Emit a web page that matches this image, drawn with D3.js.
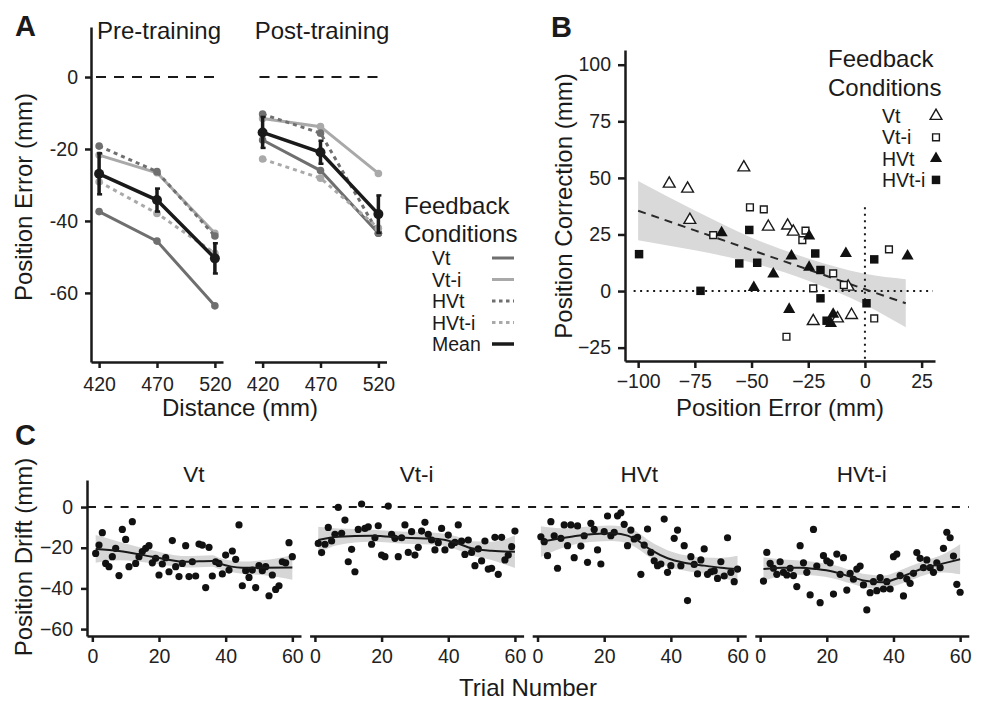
<!DOCTYPE html>
<html>
<head>
<meta charset="utf-8">
<script src="https://cdn.jsdelivr.net/npm/d3@7"></script>
<style>
body { margin: 0; background: #fff; }
text { font-family: "Liberation Sans", Arial, sans-serif; fill: #1a1a1a; }
.axis path, .axis line { stroke: #1a1a1a; stroke-width: 2.5; }
.axis text { font-size: 19.5px; fill: #222; font-family: "Liberation Sans", Arial, sans-serif; }
.title { font-size: 24px; }
.small { font-size: 19.5px; }
.letter { font-size: 29px; font-weight: bold; }
</style>
</head>
<body>
<svg id="fig" width="982" height="703"></svg>
<script>
// ---- panel A: position error by distance ----
var distances = [420, 470, 520];
var conditionNames = ["Vt", "Vt-i", "HVt", "HVt-i"];

var preVt   = [-37.4, -45.6, -63.6];
var preVti  = [-21.7, -26.6, -43.4];
var preHVt  = [-19.2, -26.3, -44.2];
var preHVti = [-29.1, -37.9, -49.0];
var preMean = [-26.9, -34.2, -50.4];
var preErr  = [5.7, 3.2, 4.2];

var postVt   = [-17.5, -26.0, -43.4];
var postVti  = [-11.5, -13.8, -26.8];
var postHVt  = [-10.3, -15.6, -43.4];
var postHVti = [-22.8, -28.1, -42.0];
var postMean = [-15.4, -20.9, -38.1];
var postErr  = [4.3, 3.2, 5.2];

var yTicksA = [0, -20, -40, -60];

// ---- panel B: correction vs error ----
var vtB   = [[-86.3,47.4],[-78.2,45.2],[-77.2,31.4],[-53.4,54.6],[-42.6,28.4],[-34.1,28.9],[-31.6,26.2],[-22.8,-13.3],[-12.1,-12.1],[-5.9,-10.6],[-7.4,1.9]];
var vtiB  = [[-66.9,24.7],[-50.7,37.0],[-44.6,36.1],[-26.2,26.7],[-27.6,22.5],[-22.8,1.2],[-14.0,7.8],[-9.3,2.7],[-34.6,-20.2],[4.1,-12.1],[10.6,18.4]];
var hvtB  = [[-63.2,25.8],[-24.6,24.3],[-32.4,15.5],[-24.6,10.5],[-40.4,7.5],[-49.0,1.6],[-33.4,-8.1],[-14.0,-10.2],[-15.0,-14.3],[-8.4,16.6],[18.8,15.5]];
var hvtiB = [[-99.6,16.3],[-72.5,0.1],[-55.4,12.2],[-51.0,27.0],[-47.5,12.5],[-21.9,16.6],[-19.6,9.3],[-19.6,-3.2],[-16.9,-13.1],[0.7,-5.4],[4.1,14.0]];

var fitX  = [-100, -75, -50, -25, 0, 18];
var fitY  = [35.5, 26.8, 18.1, 9.5, 0.8, -5.4];
var fitLo = [22.5, 18.0, 12.6, 4.6, -6.0, -16.0];
var fitHi = [48.6, 35.6, 23.6, 14.4, 7.6, 5.2];

var xTicksB = [-100, -75, -50, -25, 0, 25];
var yTicksB = [-25, 0, 25, 50, 75, 100];

// ---- panel C: drift over trials ----
var trials = d3.range(1, 61);
var driftVt = [-22.8,-18.7,-12.6,-27.7,-29.3,-24.4,-20.3,-33.7,-11.0,-15.9,
  -29.3,-7.2,-27.7,-24.4,-21.9,-20.3,-19.0,-27.4,-25.2,-33.4,
  -28.0,-24.9,-31.8,-16.5,-29.3,-34.2,-27.7,-19.0,-34.2,-26.9,
  -33.9,-18.2,-18.7,-39.6,-19.8,-33.9,-26.9,-27.7,-32.9,-23.6,
  -31.0,-21.6,-25.7,-8.8,-38.7,-31.3,-34.6,-31.0,-39.6,-28.8,
  -31.3,-29.3,-43.6,-33.4,-40.5,-38.7,-26.9,-27.4,-17.5,-24.4];
var driftVti = [-17.9,-22.4,-18.3,-10.0,-16.7,-13.4,-0.2,-12.9,-6.4,-26.9,
  -20.8,-31.8,-11.0,1.5,-10.5,-9.7,-18.3,-15.1,-9.2,-23.6,
  -24.4,0.5,-13.4,-15.4,-24.4,-15.1,-8.8,-22.3,-12.1,-23.6,
  -19.8,-11.8,-7.5,-13.4,-16.2,-21.1,-17.5,-10.5,-21.1,-13.8,
  -18.7,-17.4,-8.8,-16.7,-23.3,-16.2,-22.3,-28.8,-20.6,-26.5,
  -16.7,-30.5,-30.1,-14.9,-33.1,-14.9,-26.0,-23.6,-19.5,-11.8];
var driftHVt = [-14.6,-17.0,-23.9,-7.2,-14.1,-30.1,-15.4,-8.8,-19.0,-8.8,
  -24.9,-9.3,-19.2,-14.1,-27.2,-8.0,-11.0,-21.1,-28.0,-12.1,
  -4.4,-14.1,-12.4,-4.3,-2.8,-8.5,-19.0,-11.3,-15.7,-14.9,
  -33.1,-18.7,-10.8,-22.3,-26.4,-28.8,-28.0,-5.9,-32.1,-28.8,
  -15.4,-11.3,-28.8,-19.0,-46.0,-24.4,-28.2,-32.9,-26.0,-20.6,
  -33.1,-31.8,-31.4,-35.1,-26.9,-33.9,-15.1,-32.1,-36.7,-30.5];
var driftHVti = [-36.4,-22.3,-27.7,-30.1,-33.1,-26.9,-32.1,-33.4,-30.1,-33.7,
  -39.1,-19.0,-27.4,-32.1,-43.2,-11.0,-29.0,-47.0,-23.9,-26.4,
  -27.4,-42.8,-23.1,-33.1,-24.9,-40.8,-32.6,-35.5,-30.5,-29.0,
  -38.3,-50.6,-42.1,-36.7,-41.1,-34.7,-40.3,-36.7,-40.3,-24.4,
  -23.1,-33.7,-43.7,-35.4,-37.5,-32.6,-22.4,-25.2,-29.8,-26.0,
  -29.8,-32.1,-27.4,-29.8,-20.3,-12.4,-15.1,-24.1,-38.0,-41.9];

// smoothed fit: trial, fit, half-width of band
var smoothTVt  = [1, 8, 18, 28, 36, 38, 45, 51, 60];
var smoothVt   = [-20.6, -21.6, -24.4, -26.9, -26.5, -27.7, -29.8, -29.8, -29.7];
var smoothHwVt = [6.8, 4.6, 3.2, 2.8, 2.8, 2.8, 3.0, 3.6, 6.0];
var smoothTVti  = [1, 7, 17, 27, 37, 42, 47, 53, 60];
var smoothVti   = [-16.2, -14.6, -14.1, -15.1, -15.7, -17.4, -20.3, -21.5, -22.0];
var smoothHwVti = [6.5, 4.0, 3.0, 3.0, 3.0, 3.2, 3.5, 4.5, 8.0];
var smoothTHVt  = [1, 7, 12, 17, 22, 25, 29, 34, 39, 44, 50, 55, 60];
var smoothHVt   = [-17.0, -15.4, -14.1, -13.3, -12.9, -13.3, -15.4, -21.1, -25.2, -27.4, -28.8, -29.8, -30.5];
var smoothHwHVt = [7.5, 5.0, 4.0, 3.8, 3.8, 3.8, 4.0, 4.0, 4.0, 3.8, 4.0, 4.8, 6.5];
var smoothTHVti  = [1, 7, 12, 17, 22, 27, 32, 37, 41, 45, 49, 55, 60];
var smoothHVti   = [-30.5, -29.8, -29.8, -30.5, -31.8, -34.2, -36.4, -37.0, -35.1, -32.6, -30.1, -27.7, -25.7];
var smoothHwHVti = [5.8, 4.0, 3.5, 3.3, 3.3, 3.3, 3.3, 3.3, 3.3, 3.5, 3.5, 4.5, 7.4];

var xTicksC = [0, 20, 40, 60];
var yTicksC = [0, -20, -40, -60];

// ---- styles ----
var darkGrey = "#6f6f6f", lightGrey = "#a9a9a9", ink = "#1a1a1a";
var condStyle = [
  { color: darkGrey, dash: null },
  { color: lightGrey, dash: null },
  { color: darkGrey, dash: "4,4" },
  { color: lightGrey, dash: "4,4" }
];

var svg = d3.select("#fig");
var plain = function(d){ return String(d); };

// ================= Panel A =================
var yA = d3.scaleLinear().domain([-79.2, 13.9]).range([362, 27]);
var xPre = d3.scaleLinear().domain([413, 527]).range([91, 223]);
var xPost = d3.scaleLinear().domain([413, 527]).range([254.5, 386.5]);

svg.append("text").attr("class", "letter").attr("x", 15).attr("y", 36).text("A");

svg.append("g")
    .attr("class", "axis")
    .attr("transform", "translate(91,0)")
    .call(d3.axisLeft(yA).tickValues(yTicksA).tickFormat(plain).tickSize(6).tickPadding(7).tickSizeOuter(0));

function drawSession(x, series, mean, err, title, titleX) {
    svg.append("g")
        .attr("class", "axis")
        .attr("transform", "translate(0,362)")
        .call(d3.axisBottom(x).tickValues(distances).tickFormat(plain).tickSize(6).tickPadding(9).tickSizeOuter(0));

    svg.append("text").attr("class", "title")
        .attr("x", titleX).attr("y", 39).attr("text-anchor", "middle").text(title);

    svg.append("line")
        .attr("x1", x.range()[0] + 5).attr("x2", x.range()[1] - 3)
        .attr("y1", yA(0)).attr("y2", yA(0))
        .attr("stroke", ink).attr("stroke-width", 2).attr("stroke-dasharray", "10,8");

    var line = d3.line()
        .x(function(d, j){ return x(distances[j]); })
        .y(function(d){ return yA(d); });

    series.forEach(function(vals, i) {
        var st = condStyle[i];
        svg.append("path").datum(vals)
            .attr("d", line)
            .attr("fill", "none")
            .attr("stroke", st.color)
            .attr("stroke-width", 3)
            .attr("stroke-dasharray", st.dash);
        svg.selectAll(null).data(vals).enter().append("circle")
            .attr("cx", function(d, j){ return x(distances[j]); })
            .attr("cy", function(d){ return yA(d); })
            .attr("r", 3.8)
            .attr("fill", st.color);
    });

    svg.append("path").datum(mean)
        .attr("d", line).attr("fill", "none").attr("stroke", ink).attr("stroke-width", 3.5);

    mean.forEach(function(m, j) {
        var cx = x(distances[j]);
        svg.append("line")
            .attr("x1", cx).attr("x2", cx)
            .attr("y1", yA(m - err[j])).attr("y2", yA(m + err[j]))
            .attr("stroke", ink).attr("stroke-width", 3.5);
        [m - err[j], m + err[j]].forEach(function(v) {
            svg.append("line")
                .attr("x1", cx - 2).attr("x2", cx + 3)
                .attr("y1", yA(v)).attr("y2", yA(v))
                .attr("stroke", ink).attr("stroke-width", 2.5);
        });
    });
    svg.selectAll(null).data(mean).enter().append("circle")
        .attr("cx", function(d, j){ return x(distances[j]); })
        .attr("cy", function(d){ return yA(d); })
        .attr("r", 5)
        .attr("fill", ink);
}

drawSession(xPre, [preVt, preVti, preHVt, preHVti], preMean, preErr, "Pre-training", 159);
drawSession(xPost, [postVt, postVti, postHVt, postHVti], postMean, postErr, "Post-training", 322);

svg.append("text").attr("class", "title")
    .attr("transform", "translate(32,197) rotate(-90)")
    .attr("text-anchor", "middle").text("Position Error (mm)");
svg.append("text").attr("class", "title")
    .attr("x", 240).attr("y", 416).attr("text-anchor", "middle").text("Distance (mm)");

// legend A
svg.append("text").attr("class", "title").attr("x", 404).attr("y", 214).text("Feedback");
svg.append("text").attr("class", "title").attr("x", 404).attr("y", 242).text("Conditions");
var legA = conditionNames.concat(["Mean"]);
legA.forEach(function(name, i) {
    var ly = 258 + 21.5 * i;
    var st = i < 4 ? condStyle[i] : { color: ink, dash: null };
    svg.append("text").attr("class", "small").attr("x", 432).attr("y", ly + 7).text(name);
    svg.append("line")
        .attr("x1", 492).attr("x2", 514).attr("y1", ly).attr("y2", ly)
        .attr("stroke", st.color).attr("stroke-width", i < 4 ? 3 : 3.5)
        .attr("stroke-dasharray", st.dash ? "3.5,3.5" : null);
});

// ================= Panel B =================
var xB = d3.scaleLinear().domain([-105.8, 30.9]).range([625, 935]);
var yB = d3.scaleLinear().domain([-30.9, 106.5]).range([361, 50]);

svg.append("text").attr("class", "letter").attr("x", 551).attr("y", 37).text("B");

var band = d3.area()
    .x(function(d, j){ return xB(fitX[j]); })
    .y0(function(d, j){ return yB(fitLo[j]); })
    .y1(function(d, j){ return yB(fitHi[j]); })
    .curve(d3.curveMonotoneX);
svg.append("path").datum(fitX).attr("d", band).attr("fill", "#d9d9d9");

svg.append("line")
    .attr("x1", xB(-102)).attr("x2", xB(30))
    .attr("y1", yB(0)).attr("y2", yB(0))
    .attr("stroke", ink).attr("stroke-width", 2).attr("stroke-dasharray", "2,4.5");
svg.append("line")
    .attr("x1", xB(0)).attr("x2", xB(0))
    .attr("y1", yB(37)).attr("y2", yB(-30.9))
    .attr("stroke", ink).attr("stroke-width", 2).attr("stroke-dasharray", "2,4.5");

svg.append("path").datum(fitY)
    .attr("d", d3.line().x(function(d, j){ return xB(fitX[j]); }).y(function(d){ return yB(d); }))
    .attr("fill", "none").attr("stroke", "#2a2a2a").attr("stroke-width", 2).attr("stroke-dasharray", "8,6");

var tri = d3.symbol().type(d3.symbolTriangle).size(60);
var sqOpen = d3.symbol().type(d3.symbolSquare).size(46);
var sqFill = d3.symbol().type(d3.symbolSquare).size(72);
var tri2 = d3.symbol().type(d3.symbolTriangle).size(64);
var markB = [
    { pts: vtB, path: tri(), fill: "#fff", stroke: ink },
    { pts: vtiB, path: sqOpen(), fill: "#fff", stroke: ink },
    { pts: hvtB, path: tri2(), fill: "#111", stroke: "none" },
    { pts: hvtiB, path: sqFill(), fill: "#111", stroke: "none" }
];
markB.forEach(function(m) {
    svg.selectAll(null).data(m.pts).enter().append("path")
        .attr("d", m.path)
        .attr("transform", function(d){ return "translate(" + xB(d[0]) + "," + yB(d[1]) + ")"; })
        .attr("fill", m.fill).attr("stroke", m.stroke).attr("stroke-width", 1.4);
});

svg.append("g").attr("class", "axis").attr("transform", "translate(625,0)")
    .call(d3.axisLeft(yB).tickValues(yTicksB).tickSize(7).tickPadding(7).tickSizeOuter(0));
svg.append("g").attr("class", "axis").attr("transform", "translate(0,361)")
    .call(d3.axisBottom(xB).tickValues(xTicksB).tickSize(7).tickPadding(6).tickSizeOuter(0));

svg.append("text").attr("class", "title")
    .attr("transform", "translate(572,206) rotate(-90)")
    .attr("text-anchor", "middle").text("Position Correction (mm)");
svg.append("text").attr("class", "title")
    .attr("x", 780).attr("y", 416).attr("text-anchor", "middle").text("Position Error (mm)");

// legend B
svg.append("text").attr("class", "title").attr("x", 828).attr("y", 67).text("Feedback");
svg.append("text").attr("class", "title").attr("x", 828).attr("y", 96).text("Conditions");
markB.forEach(function(m, i) {
    var ly = 116 + 21.3 * i;
    svg.append("text").attr("class", "small").attr("x", 882).attr("y", ly + 7).text(conditionNames[i]);
    svg.append("path").attr("d", m.path)
        .attr("transform", "translate(936," + ly + ")")
        .attr("fill", m.fill).attr("stroke", m.stroke).attr("stroke-width", 1.4);
});

// ================= Panel C =================
var yC = d3.scaleLinear().domain([-63.4, 13.3]).range([636, 480]);
var driftSeries = [driftVt, driftVti, driftHVt, driftHVti];
var smoothT = [smoothTVt, smoothTVti, smoothTHVt, smoothTHVti];
var smoothF = [smoothVt, smoothVti, smoothHVt, smoothHVti];
var smoothH = [smoothHwVt, smoothHwVti, smoothHwHVt, smoothHwHVti];

svg.append("text").attr("class", "letter").attr("x", 15).attr("y", 445).text("C");

svg.append("line")
    .attr("x1", 88).attr("x2", 969).attr("y1", yC(0)).attr("y2", yC(0))
    .attr("stroke", ink).attr("stroke-width", 2).attr("stroke-dasharray", "8,8.3");

conditionNames.forEach(function(name, i) {
    var x0 = 87 + i * 222.6;
    var xC = d3.scaleLinear().domain([-1.6, 62.6]).range([x0, x0 + 214]);
    var ts = smoothT[i], fs = smoothF[i], hs = smoothH[i];

    svg.append("path").datum(ts)
        .attr("d", d3.area()
            .x(function(d){ return xC(d); })
            .y0(function(d, j){ return yC(fs[j] - hs[j]); })
            .y1(function(d, j){ return yC(fs[j] + hs[j]); })
            .curve(d3.curveMonotoneX))
        .attr("fill", "#d6d6d6");

    svg.selectAll(null).data(driftSeries[i]).enter().append("circle")
        .attr("cx", function(d, j){ return xC(trials[j]); })
        .attr("cy", function(d){ return yC(d); })
        .attr("r", 3.6)
        .attr("fill", "#111");

    svg.append("path").datum(ts)
        .attr("d", d3.line()
            .x(function(d){ return xC(d); })
            .y(function(d, j){ return yC(fs[j]); })
            .curve(d3.curveMonotoneX))
        .attr("fill", "none").attr("stroke", ink).attr("stroke-width", 2);

    svg.append("g").attr("class", "axis").attr("transform", "translate(0,636)")
        .call(d3.axisBottom(xC).tickValues(xTicksC).tickSize(6).tickPadding(7).tickSizeOuter(0));

    svg.append("text").attr("class", "title").style("font-size", "22.5px")
        .attr("x", x0 + 107).attr("y", 482).attr("text-anchor", "middle").text(name);
});

svg.append("g").attr("class", "axis").attr("transform", "translate(87,0)")
    .call(d3.axisLeft(yC).tickValues(yTicksC).tickSize(6).tickPadding(8).tickSizeOuter(0));

svg.append("text").attr("class", "title")
    .attr("transform", "translate(32,557) rotate(-90)")
    .attr("text-anchor", "middle").text("Position Drift (mm)");
svg.append("text").attr("class", "title")
    .attr("x", 528).attr("y", 696).attr("text-anchor", "middle").text("Trial Number");
</script>
</body>
</html>
